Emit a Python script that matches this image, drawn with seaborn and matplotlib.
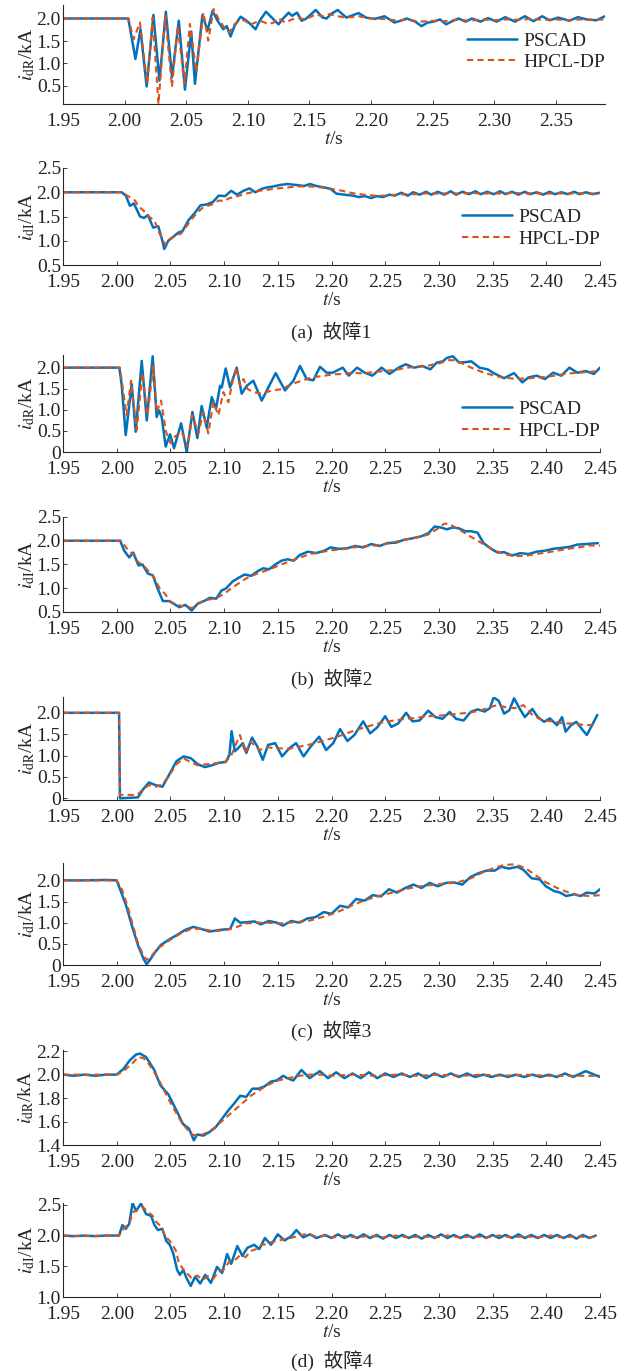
import numpy as np
import pandas as pd
import matplotlib
matplotlib.use("Agg")
import matplotlib.pyplot as plt
import seaborn as sns
from matplotlib.ticker import FuncFormatter, MultipleLocator, FormatStrFormatter

# ---- data: (t [s], current [kA]) ----
# fault 1, rectifier current
F1_R_PSCAD = [(1.95, 2.0), (2.003, 2.0), (2.0088, 1.10), (2.0129, 1.76), (2.0179, 0.49), (2.0234, 2.08),
              (2.0283, 0.62), (2.0335, 2.15), (2.0385, 0.70), (2.044, 1.95), (2.049, 0.42), (2.0541, 1.71),
              (2.0571, 0.55), (2.0632, 2.08), (2.0673, 1.73), (2.0714, 2.17), (2.0755, 1.95), (2.0802, 1.76),
              (2.083, 1.83), (2.086, 1.60), (2.0893, 1.84), (2.0942, 2.04), (2.098, 1.97), (2.1016, 1.89),
              (2.1063, 1.76), (2.1099, 1.96), (2.1148, 2.15), (2.1195, 2.02), (2.125, 1.87), (2.128, 1.98),
              (2.1332, 2.13), (2.136, 2.06), (2.140, 2.13), (2.1437, 1.95), (2.147, 1.99), (2.150, 2.06),
              (2.1552, 2.19), (2.1607, 2.02), (2.164, 2.0), (2.1676, 2.10), (2.173, 2.19), (2.18, 2.02),
              (2.19, 2.12), (2.196, 2.02), (2.203, 1.99), (2.211, 2.05), (2.219, 1.91), (2.224, 1.95),
              (2.229, 2.0), (2.236, 1.93), (2.241, 1.83), (2.246, 1.91), (2.251, 1.93), (2.256, 1.98),
              (2.261, 1.87), (2.266, 1.94), (2.271, 2.0), (2.277, 1.93), (2.282, 2.0), (2.289, 1.93),
              (2.295, 2.01), (2.302, 1.93), (2.309, 2.03), (2.317, 1.93), (2.325, 2.05), (2.332, 1.94),
              (2.339, 2.05), (2.345, 1.96), (2.352, 2.02), (2.361, 1.95), (2.368, 2.03), (2.375, 1.98),
              (2.383, 1.96), (2.390, 2.05)]
F1_R_HPCL = [(1.95, 2.0), (2.003, 2.0), (2.0074, 1.54), (2.0124, 1.91), (2.0184, 0.55), (2.0228, 2.02),
             (2.0275, 0.10), (2.033, 2.06), (2.0385, 0.48), (2.0431, 1.84), (2.0486, 0.55), (2.053, 1.88),
             (2.0582, 0.81), (2.064, 2.13), (2.0679, 1.51), (2.0723, 2.21), (2.077, 1.95), (2.081, 1.80),
             (2.085, 1.69), (2.089, 1.87), (2.094, 1.97), (2.098, 1.95), (2.1016, 1.86), (2.106, 1.91),
             (2.111, 1.94), (2.1168, 1.875), (2.121, 1.91), (2.125, 2.0), (2.1305, 1.91), (2.136, 1.98),
             (2.141, 2.01), (2.147, 1.98), (2.155, 2.09), (2.161, 2.05), (2.166, 2.10), (2.173, 2.05),
             (2.18, 2.02), (2.19, 2.05), (2.20, 2.0), (2.21, 1.99), (2.22, 1.96), (2.23, 1.97), (2.24, 1.93),
             (2.25, 1.95), (2.26, 1.94), (2.27, 1.97), (2.28, 1.95), (2.29, 1.98), (2.30, 1.96), (2.31, 1.98),
             (2.32, 1.97), (2.33, 1.99), (2.34, 1.97), (2.35, 1.98), (2.36, 1.96), (2.37, 1.98), (2.38, 1.97),
             (2.39, 1.98)]
# fault 1, inverter current
F1_I_PSCAD = [(1.95, 2.0), (2.0047, 2.0), (2.0085, 1.93), (2.0123, 1.72), (2.016, 1.77), (2.0217, 1.50),
              (2.0255, 1.47), (2.029, 1.53), (2.034, 1.27), (2.0387, 1.30), (2.0425, 1.0), (2.0443, 0.83),
              (2.048, 1.0), (2.052, 1.07), (2.0575, 1.17), (2.0613, 1.20), (2.067, 1.43), (2.0726, 1.57),
              (2.078, 1.73), (2.084, 1.75), (2.0896, 1.80), (2.095, 1.93), (2.101, 1.92), (2.1066, 2.03),
              (2.112, 1.95), (2.118, 2.03), (2.1236, 2.08), (2.129, 2.0), (2.135, 2.07), (2.14, 2.10),
              (2.146, 2.12), (2.152, 2.15), (2.159, 2.17), (2.167, 2.15), (2.1745, 2.13), (2.18, 2.17),
              (2.1858, 2.13), (2.193, 2.10), (2.199, 2.07), (2.2047, 1.97), (2.212, 1.95), (2.22, 1.93),
              (2.2255, 1.90), (2.231, 1.92), (2.237, 1.88), (2.242, 1.92), (2.248, 1.90), (2.254, 1.95),
              (2.259, 1.93), (2.265, 1.99), (2.271, 1.93), (2.276, 2.0), (2.282, 1.95), (2.288, 2.01),
              (2.293, 1.95), (2.299, 2.01), (2.305, 1.95), (2.311, 2.02), (2.316, 1.95), (2.322, 2.01),
              (2.328, 1.96), (2.334, 2.02), (2.339, 1.96), (2.345, 2.01), (2.351, 1.96), (2.357, 2.02),
              (2.362, 1.96), (2.368, 2.01), (2.374, 1.95), (2.38, 2.01), (2.385, 1.96), (2.391, 2.0),
              (2.397, 1.95), (2.403, 2.01), (2.408, 1.96), (2.414, 2.0), (2.42, 1.96), (2.426, 2.01),
              (2.431, 1.96), (2.437, 2.0), (2.443, 1.96), (2.45, 1.99)]
F1_I_HPCL = [(1.95, 2.0), (2.005, 2.0), (2.012, 1.90), (2.017, 1.83), (2.02, 1.72), (2.025, 1.62),
             (2.03, 1.50), (2.035, 1.42), (2.04, 1.15), (2.045, 0.92), (2.05, 1.05), (2.055, 1.10),
             (2.06, 1.15), (2.065, 1.30), (2.07, 1.45), (2.075, 1.58), (2.08, 1.68), (2.085, 1.72),
             (2.09, 1.76), (2.095, 1.83), (2.10, 1.82), (2.105, 1.88), (2.11, 1.90), (2.12, 1.97),
             (2.13, 2.02), (2.14, 2.05), (2.15, 2.08), (2.16, 2.10), (2.17, 2.12), (2.18, 2.12), (2.19, 2.10),
             (2.20, 2.07), (2.21, 2.03), (2.22, 1.98), (2.23, 1.95), (2.24, 1.93), (2.25, 1.93), (2.26, 1.95),
             (2.27, 1.96), (2.28, 1.96), (2.29, 1.98), (2.30, 1.97), (2.31, 1.98), (2.32, 1.97), (2.33, 1.99),
             (2.34, 1.97), (2.35, 1.98), (2.36, 1.97), (2.37, 1.99), (2.38, 1.97), (2.39, 1.98), (2.40, 1.97),
             (2.41, 1.98), (2.42, 1.97), (2.43, 1.98), (2.44, 1.97), (2.45, 1.98)]

# fault 2
F2_R_PSCAD = [(1.95, 2.0), (2.0025, 2.0), (2.0047, 1.57), (2.0084, 0.40), (2.014, 1.61), (2.0177, 0.48),
              (2.0233, 2.16), (2.028, 0.75), (2.0335, 2.27), (2.0372, 0.83), (2.0394, 0.99), (2.0419, 0.83),
              (2.0456, 0.13), (2.0497, 0.42), (2.0534, 0.09), (2.06, 0.68), (2.0652, 0.0), (2.0705, 0.95),
              (2.0751, 0.33), (2.0791, 1.09), (2.0838, 0.58), (2.0885, 1.30), (2.0925, 1.03), (2.0962, 1.57),
              (2.0978, 1.53), (2.1015, 1.98), (2.1055, 1.53), (2.1117, 2.0), (2.1164, 1.38), (2.121, 1.57),
              (2.1272, 1.69), (2.135, 1.22), (2.1412, 1.53), (2.148, 1.87), (2.1567, 1.46), (2.1645, 1.69),
              (2.1707, 2.04), (2.1769, 1.73), (2.183, 1.70), (2.1893, 2.02), (2.1955, 1.88), (2.201, 1.88),
              (2.2105, 2.0), (2.216, 1.81), (2.2238, 2.0), (2.231, 1.88), (2.238, 1.81), (2.2466, 2.0),
              (2.254, 1.85), (2.2625, 2.0), (2.269, 2.08), (2.277, 2.0), (2.2846, 2.04), (2.292, 1.96),
              (2.298, 2.12), (2.3036, 2.15), (2.3074, 2.23), (2.313, 2.27), (2.3188, 2.12), (2.3245, 2.13),
              (2.3302, 2.15), (2.3378, 2.0), (2.3454, 1.96), (2.351, 1.87), (2.3606, 1.75), (2.37, 1.87),
              (2.3777, 1.65), (2.3835, 1.77), (2.391, 1.81), (2.3987, 1.73), (2.4063, 1.88), (2.414, 1.81),
              (2.4215, 2.0), (2.429, 1.88), (2.4367, 1.92), (2.4443, 1.85), (2.45, 2.0)]
F2_R_HPCL = [(1.95, 2.0), (2.003, 2.0), (2.0062, 1.42), (2.0093, 0.87), (2.0133, 1.69), (2.0186, 0.52),
             (2.0239, 1.87), (2.0286, 0.87), (2.0341, 2.04), (2.0372, 0.95), (2.0413, 1.22), (2.0459, 0.48),
             (2.0503, 0.21), (2.0543, 0.37), (2.0605, 0.48), (2.0661, 0.13), (2.0705, 0.87), (2.076, 0.44),
             (2.0807, 0.95), (2.0853, 0.44), (2.09, 1.18), (2.0947, 0.87), (2.0993, 1.42), (2.104, 1.18),
             (2.1077, 1.65), (2.1117, 2.0), (2.1148, 1.57), (2.118, 1.73), (2.122, 1.49), (2.1272, 1.42),
             (2.135, 1.38), (2.1443, 1.46), (2.1536, 1.49), (2.163, 1.61), (2.1722, 1.69), (2.1816, 1.77),
             (2.191, 1.80), (2.2017, 1.84), (2.21, 1.85), (2.22, 1.88), (2.23, 1.86), (2.24, 1.90),
             (2.25, 1.92), (2.26, 1.95), (2.27, 2.0), (2.28, 2.02), (2.29, 2.05), (2.30, 2.10), (2.31, 2.18),
             (2.315, 2.17), (2.32, 2.12), (2.33, 2.0), (2.34, 1.90), (2.35, 1.82), (2.36, 1.76), (2.37, 1.74),
             (2.38, 1.74), (2.39, 1.76), (2.40, 1.78), (2.41, 1.82), (2.42, 1.86), (2.43, 1.88), (2.44, 1.90),
             (2.45, 1.92)]
F2_I_PSCAD = [(1.95, 2.0), (2.0032, 2.0), (2.007, 1.79), (2.0116, 1.65), (2.0154, 1.75), (2.0203, 1.48),
              (2.024, 1.50), (2.029, 1.31), (2.0337, 1.27), (2.038, 1.0), (2.043, 0.73), (2.0489, 0.73),
              (2.0534, 0.67), (2.0583, 0.60), (2.064, 0.65), (2.0698, 0.53), (2.0755, 0.68), (2.0812, 0.73),
              (2.0869, 0.80), (2.0926, 0.78), (2.0975, 0.95), (2.102, 1.0), (2.1078, 1.14), (2.1135, 1.22),
              (2.1192, 1.29), (2.125, 1.26), (2.1306, 1.35), (2.1363, 1.42), (2.142, 1.40), (2.1477, 1.50),
              (2.1534, 1.58), (2.159, 1.61), (2.1648, 1.58), (2.1705, 1.70), (2.178, 1.77), (2.1857, 1.74),
              (2.1933, 1.79), (2.199, 1.86), (2.2066, 1.83), (2.2143, 1.84), (2.222, 1.89), (2.2295, 1.86),
              (2.237, 1.93), (2.2447, 1.89), (2.252, 1.95), (2.26, 1.96), (2.2675, 2.02), (2.275, 2.05),
              (2.283, 2.09), (2.2903, 2.16), (2.296, 2.30), (2.3017, 2.28), (2.3074, 2.24), (2.313, 2.28),
              (2.3188, 2.26), (2.3245, 2.20), (2.3302, 2.20), (2.336, 2.17), (2.3416, 1.95), (2.3492, 1.82),
              (2.355, 1.75), (2.3606, 1.76), (2.3682, 1.69), (2.3758, 1.74), (2.3835, 1.72), (2.391, 1.77),
              (2.3987, 1.79), (2.4063, 1.83), (2.414, 1.85), (2.4215, 1.87), (2.429, 1.92), (2.4367, 1.93),
              (2.448, 1.95)]
F2_I_HPCL = [(1.95, 2.0), (2.004, 2.0), (2.01, 1.82), (2.015, 1.72), (2.02, 1.55), (2.025, 1.48), (2.03, 1.35),
             (2.035, 1.22), (2.04, 1.0), (2.045, 0.88), (2.05, 0.72), (2.055, 0.66), (2.06, 0.63), (2.065, 0.62),
             (2.07, 0.58), (2.075, 0.66), (2.08, 0.72), (2.085, 0.76), (2.09, 0.78), (2.095, 0.82), (2.10, 0.88),
             (2.105, 0.97), (2.11, 1.05), (2.12, 1.20), (2.13, 1.30), (2.14, 1.38), (2.15, 1.47), (2.16, 1.56),
             (2.17, 1.64), (2.18, 1.72), (2.19, 1.76), (2.20, 1.80), (2.21, 1.82), (2.22, 1.86), (2.23, 1.88),
             (2.24, 1.90), (2.25, 1.93), (2.26, 1.98), (2.27, 2.03), (2.28, 2.07), (2.29, 2.13), (2.30, 2.27),
             (2.305, 2.36), (2.31, 2.35), (2.32, 2.22), (2.33, 2.08), (2.34, 1.95), (2.35, 1.82), (2.36, 1.72),
             (2.37, 1.68), (2.38, 1.68), (2.39, 1.72), (2.40, 1.75), (2.41, 1.79), (2.42, 1.83), (2.43, 1.86),
             (2.44, 1.90), (2.45, 1.90)]

# fault 3
F3_R_PSCAD = [(1.95, 2.0), (2.0022, 2.0), (2.003, 0.0), (2.0197, 0.02), (2.0246, 0.21), (2.03, 0.37),
              (2.036, 0.31), (2.0426, 0.27), (2.049, 0.56), (2.0557, 0.87), (2.0623, 0.98), (2.0689, 0.94),
              (2.0754, 0.80), (2.082, 0.73), (2.0885, 0.77), (2.095, 0.83), (2.1016, 0.85), (2.105, 1.02),
              (2.107, 1.57), (2.11, 1.10), (2.113, 1.17), (2.1174, 1.29), (2.1207, 1.06), (2.126, 1.42),
              (2.131, 1.21), (2.136, 0.90), (2.141, 1.25), (2.1475, 1.29), (2.154, 0.98), (2.1607, 1.17),
              (2.167, 1.29), (2.174, 0.98), (2.18, 1.19), (2.1885, 1.44), (2.195, 1.13), (2.2016, 1.29),
              (2.208, 1.62), (2.2148, 1.34), (2.2213, 1.48), (2.2295, 1.80), (2.236, 1.52), (2.2426, 1.66),
              (2.25, 1.92), (2.2557, 1.67), (2.262, 1.75), (2.2695, 2.0), (2.2754, 1.80), (2.282, 1.82),
              (2.29, 2.05), (2.2967, 1.90), (2.3033, 1.86), (2.31, 2.02), (2.316, 1.86), (2.323, 1.82),
              (2.3295, 2.02), (2.336, 2.08), (2.3426, 2.03), (2.3475, 2.11), (2.351, 2.36), (2.3557, 2.28),
              (2.3607, 1.98), (2.3656, 2.06), (2.37, 2.34), (2.3754, 2.09), (2.38, 1.90), (2.387, 2.09),
              (2.392, 1.90), (2.398, 1.79), (2.4033, 1.87), (2.41, 1.71), (2.4147, 1.90), (2.418, 1.56),
              (2.423, 1.71), (2.428, 1.79), (2.4328, 1.63), (2.4377, 1.48), (2.4426, 1.71), (2.4475, 1.95)]
F3_R_HPCL = [(1.95, 2.0), (2.0022, 2.0), (2.003, 0.08), (2.019, 0.08), (2.0246, 0.21), (2.03, 0.31),
             (2.0367, 0.27), (2.0426, 0.33), (2.049, 0.54), (2.0557, 0.80), (2.0623, 0.93), (2.0689, 0.85),
             (2.0754, 0.77), (2.085, 0.80), (2.095, 0.83), (2.1016, 0.86), (2.107, 1.02), (2.1115, 1.29),
             (2.1148, 1.48), (2.1197, 1.06), (2.1246, 1.33), (2.133, 1.13), (2.141, 1.19), (2.1508, 1.17),
             (2.1607, 1.16), (2.1705, 1.21), (2.18, 1.26), (2.19, 1.33), (2.20, 1.40), (2.21, 1.48),
             (2.2197, 1.57), (2.2295, 1.65), (2.2393, 1.72), (2.249, 1.79), (2.259, 1.82), (2.2689, 1.86),
             (2.2787, 1.88), (2.2885, 1.92), (2.2984, 1.93), (2.308, 1.95), (2.318, 1.98), (2.328, 2.0),
             (2.338, 2.05), (2.3475, 2.13), (2.354, 2.18), (2.3623, 2.13), (2.3705, 2.11), (2.3787, 2.18),
             (2.387, 1.95), (2.3967, 1.82), (2.4066, 1.80), (2.4164, 1.75), (2.426, 1.75), (2.436, 1.71),
             (2.4475, 1.72)]
F3_I_PSCAD = [(1.95, 2.0), (1.97, 2.0), (1.99, 2.01), (2.0, 2.0), (2.0031, 1.79), (2.0088, 1.40), (2.0145, 0.90),
              (2.0202, 0.44), (2.0251, 0.14), (2.0278, 0.02), (2.0304, 0.10), (2.0354, 0.29), (2.041, 0.47),
              (2.0486, 0.60), (2.0562, 0.71), (2.0638, 0.83), (2.0714, 0.90), (2.079, 0.85), (2.0866, 0.79),
              (2.096, 0.83), (2.1056, 0.85), (2.11, 1.10), (2.115, 1.0), (2.1207, 1.01), (2.1283, 1.03),
              (2.134, 0.96), (2.1416, 1.04), (2.149, 1.0), (2.1548, 0.93), (2.1624, 1.04), (2.17, 1.0),
              (2.1776, 1.10), (2.185, 1.13), (2.1928, 1.25), (2.2, 1.21), (2.208, 1.40), (2.2155, 1.36),
              (2.223, 1.56), (2.2307, 1.52), (2.2383, 1.65), (2.246, 1.62), (2.2535, 1.79), (2.261, 1.71),
              (2.2687, 1.82), (2.2763, 1.90), (2.2838, 1.82), (2.2914, 1.94), (2.299, 1.86), (2.3066, 1.94),
              (2.3142, 1.95), (2.3218, 1.90), (2.3294, 2.08), (2.337, 2.17), (2.3445, 2.23), (2.352, 2.23),
              (2.3578, 2.32), (2.3654, 2.28), (2.373, 2.32), (2.3787, 2.25), (2.3863, 2.05), (2.394, 2.02),
              (2.3996, 1.86), (2.407, 1.75), (2.413, 1.71), (2.4185, 1.63), (2.426, 1.67), (2.432, 1.63),
              (2.4375, 1.71), (2.445, 1.69), (2.45, 1.79)]
F3_I_HPCL = [(1.95, 2.0), (2.0, 2.0), (2.005, 1.78), (2.01, 1.40), (2.015, 0.95), (2.02, 0.50), (2.025, 0.22),
             (2.028, 0.12), (2.032, 0.20), (2.036, 0.32), (2.04, 0.42), (2.05, 0.60), (2.06, 0.75), (2.07, 0.86),
             (2.08, 0.85), (2.09, 0.80), (2.10, 0.82), (2.11, 0.88), (2.12, 0.98), (2.13, 1.0), (2.14, 1.0),
             (2.15, 0.98), (2.16, 1.0), (2.17, 1.02), (2.18, 1.05), (2.19, 1.12), (2.20, 1.20), (2.21, 1.30),
             (2.22, 1.42), (2.23, 1.52), (2.24, 1.60), (2.25, 1.67), (2.26, 1.73), (2.27, 1.80), (2.28, 1.85),
             (2.29, 1.88), (2.30, 1.91), (2.31, 1.94), (2.32, 1.97), (2.33, 2.05), (2.34, 2.18), (2.35, 2.28),
             (2.36, 2.36), (2.37, 2.38), (2.38, 2.30), (2.39, 2.12), (2.40, 1.95), (2.41, 1.82), (2.42, 1.72),
             (2.43, 1.65), (2.44, 1.63), (2.45, 1.65)]

# fault 4
F4_R_PSCAD = [(1.95, 2.0), (1.96, 1.99), (1.97, 2.0), (1.98, 1.99), (1.99, 2.0), (2.0, 2.0), (2.0064, 2.05),
              (2.012, 2.12), (2.0178, 2.17), (2.0216, 2.18), (2.0273, 2.15), (2.035, 2.04), (2.0406, 1.91),
              (2.0482, 1.83), (2.0559, 1.69), (2.0616, 1.58), (2.0673, 1.54), (2.0718, 1.44), (2.075, 1.49),
              (2.0806, 1.48), (2.0863, 1.51), (2.092, 1.55), (2.0978, 1.62), (2.1035, 1.69), (2.109, 1.75),
              (2.115, 1.82), (2.1206, 1.81), (2.1263, 1.88), (2.132, 1.88), (2.1377, 1.90), (2.1435, 1.94),
              (2.149, 1.95), (2.155, 1.99), (2.1587, 1.97), (2.1644, 1.95), (2.172, 2.04), (2.1796, 1.97),
              (2.1891, 2.03), (2.1968, 1.97), (2.2044, 2.02), (2.212, 1.97), (2.2196, 2.01), (2.2272, 1.97),
              (2.2348, 2.02), (2.2425, 1.97), (2.25, 2.01), (2.2577, 1.98), (2.2653, 2.01), (2.273, 1.98),
              (2.2806, 2.01), (2.2882, 1.97), (2.2958, 2.01), (2.3034, 1.98), (2.311, 2.01), (2.3186, 1.98),
              (2.3262, 2.01), (2.3338, 1.98), (2.3414, 2.0), (2.349, 1.98), (2.3566, 2.0), (2.3642, 1.98),
              (2.3718, 2.0), (2.3794, 1.98), (2.387, 2.0), (2.3946, 1.98), (2.4022, 2.0), (2.4098, 1.98),
              (2.4174, 2.01), (2.425, 1.98), (2.4367, 2.03), (2.45, 1.98)]
F4_R_HPCL = [(1.95, 2.0), (2.0, 2.0), (2.005, 2.02), (2.01, 2.06), (2.015, 2.10), (2.02, 2.15), (2.025, 2.14),
             (2.03, 2.09), (2.035, 2.02), (2.04, 1.94), (2.045, 1.85), (2.05, 1.76), (2.055, 1.68), (2.06, 1.60),
             (2.065, 1.54), (2.07, 1.49), (2.075, 1.48), (2.08, 1.49), (2.085, 1.51), (2.09, 1.54), (2.095, 1.58),
             (2.10, 1.62), (2.105, 1.66), (2.11, 1.70), (2.115, 1.74), (2.12, 1.78), (2.125, 1.82), (2.13, 1.85),
             (2.135, 1.88), (2.14, 1.91), (2.15, 1.95), (2.16, 1.97), (2.17, 1.99), (2.18, 2.0), (2.19, 2.0),
             (2.20, 1.99), (2.22, 2.0), (2.24, 1.99), (2.26, 2.0), (2.28, 1.99), (2.30, 2.0), (2.32, 1.99),
             (2.34, 2.0), (2.36, 1.99), (2.38, 2.0), (2.40, 1.99), (2.42, 1.99), (2.45, 1.99)]
F4_I_PSCAD = [(1.95, 2.0), (1.96, 1.99), (1.97, 2.0), (1.98, 1.99), (1.99, 2.0), (2.0022, 2.0), (2.0053, 2.17),
              (2.0085, 2.11), (2.0116, 2.19), (2.0148, 2.53), (2.018, 2.40), (2.0226, 2.52), (2.0274, 2.35),
              (2.032, 2.32), (2.0352, 2.17), (2.0384, 2.09), (2.0425, 2.11), (2.0462, 1.91), (2.0494, 1.85),
              (2.0525, 1.72), (2.0563, 1.44), (2.0588, 1.36), (2.062, 1.44), (2.065, 1.31), (2.0689, 1.18),
              (2.073, 1.33), (2.0777, 1.22), (2.0824, 1.36), (2.0877, 1.23), (2.0934, 1.49), (2.0981, 1.39),
              (2.1028, 1.70), (2.1066, 1.54), (2.1123, 1.83), (2.117, 1.67), (2.1217, 1.80), (2.128, 1.85),
              (2.1327, 1.78), (2.138, 1.96), (2.1437, 1.85), (2.15, 2.02), (2.1563, 1.92), (2.1626, 1.99),
              (2.1673, 2.09), (2.1736, 1.97), (2.18, 2.02), (2.186, 1.96), (2.194, 2.01), (2.200, 1.96),
              (2.206, 2.02), (2.212, 1.96), (2.218, 2.01), (2.224, 1.96), (2.230, 2.02), (2.236, 1.96),
              (2.242, 2.01), (2.248, 1.95), (2.254, 2.01), (2.260, 1.96), (2.266, 2.01), (2.272, 1.96),
              (2.278, 2.01), (2.284, 1.95), (2.290, 2.01), (2.296, 1.96), (2.302, 2.02), (2.308, 1.96),
              (2.314, 2.01), (2.320, 1.96), (2.326, 2.01), (2.332, 1.96), (2.338, 2.02), (2.344, 1.96),
              (2.350, 2.01), (2.356, 1.96), (2.362, 2.01), (2.368, 1.96), (2.374, 2.02), (2.380, 1.96),
              (2.386, 2.01), (2.392, 1.96), (2.398, 2.01), (2.404, 1.96), (2.410, 2.01), (2.416, 1.96),
              (2.422, 2.01), (2.428, 1.95), (2.434, 2.01), (2.440, 1.96), (2.446, 2.0)]
F4_I_HPCL = [(1.95, 2.0), (1.97, 1.99), (1.99, 2.0), (2.002, 2.0), (2.005, 2.08), (2.008, 2.14), (2.012, 2.20),
             (2.015, 2.38), (2.02, 2.42), (2.024, 2.47), (2.028, 2.40), (2.033, 2.33), (2.037, 2.22),
             (2.041, 2.15), (2.045, 2.0), (2.05, 1.90), (2.055, 1.76), (2.058, 1.55), (2.062, 1.45),
             (2.066, 1.38), (2.07, 1.30), (2.075, 1.35), (2.08, 1.28), (2.085, 1.34), (2.09, 1.30), (2.095, 1.42),
             (2.10, 1.45), (2.105, 1.58), (2.11, 1.60), (2.115, 1.68), (2.12, 1.65), (2.125, 1.75), (2.13, 1.78),
             (2.135, 1.85), (2.14, 1.86), (2.145, 1.90), (2.15, 1.91), (2.155, 1.94), (2.16, 1.95), (2.17, 2.0),
             (2.178, 2.03), (2.186, 1.98), (2.194, 2.0), (2.20, 1.97), (2.212, 1.99), (2.224, 1.97), (2.236, 2.0),
             (2.248, 1.97), (2.26, 2.0), (2.272, 1.97), (2.284, 1.99), (2.296, 1.97), (2.308, 2.0), (2.32, 1.97),
             (2.332, 1.99), (2.344, 1.97), (2.356, 2.0), (2.368, 1.97), (2.38, 1.99), (2.392, 1.97), (2.404, 2.0),
             (2.416, 1.97), (2.428, 1.99), (2.44, 1.97), (2.448, 1.99)]

SERIES = ["PSCAD", "HPCL-DP"]
CAPTIONS = ["(a)  故障1", "(b)  故障2", "(c)  故障3", "(d)  故障4"]
YLABEL_R = r"$i_{\mathrm{dR}}$/kA"
YLABEL_I = r"$i_{\mathrm{dI}}$/kA"

# ---- layout (pixel boxes: top, bottom) ----
W, H = 628, 1371
LEFT, RIGHT = 63, 600
FS = 14
BLUE = "#0072BD"
ORANGE = "#D95319"

panels = [
    # data pscad, data hpcl, ylabel, ylim, yticks, xmax, box, legend y
    (F1_R_PSCAD, F1_R_HPCL, YLABEL_R, (0.1, 2.3), [0.5, 1.0, 1.5, 2.0], 2.39, (5, 104), 0.53),
    (F1_I_PSCAD, F1_I_HPCL, YLABEL_I, (0.5, 2.5), [0.5, 1.0, 1.5, 2.0, 2.5], 2.45, (168, 265), 0.38),
    (F2_R_PSCAD, F2_R_HPCL, YLABEL_R, (0.0, 2.3), [0, 0.5, 1.0, 1.5, 2.0], 2.45, (355, 452), 0.33),
    (F2_I_PSCAD, F2_I_HPCL, YLABEL_I, (0.5, 2.5), [0.5, 1.0, 1.5, 2.0, 2.5], 2.45, (517, 612), None),
    (F3_R_PSCAD, F3_R_HPCL, YLABEL_R, (-0.04, 2.37), [0, 0.5, 1.0, 1.5, 2.0], 2.45, (697, 800), None),
    (F3_I_PSCAD, F3_I_HPCL, YLABEL_I, (0.0, 2.41), [0, 0.5, 1.0, 1.5, 2.0], 2.45, (863, 965), None),
    (F4_R_PSCAD, F4_R_HPCL, YLABEL_R, (1.4, 2.21), [1.4, 1.6, 1.8, 2.0, 2.2], 2.45, (1050, 1145), None),
    (F4_I_PSCAD, F4_I_HPCL, YLABEL_I, (1.0, 2.53), [1.0, 1.5, 2.0, 2.5], 2.45, (1203, 1297), None),
]
caption_y = [332, 679, 1031, 1361]


def to_frame(pairs):
    return pd.DataFrame(pairs, columns=["t", "i"])


def ytick_fmt(v, pos):
    if abs(v) < 1e-9:
        return "0"
    return f"{v:.1f}"


sns.set_theme(style="ticks")
plt.rcParams["font.family"] = ["Liberation Serif", "Noto Sans CJK SC"]
plt.rcParams["mathtext.fontset"] = "stix"
plt.rcParams["axes.linewidth"] = 0.8

fig = plt.figure(figsize=(W / 100, H / 100), dpi=100)

for pscad, hpcl, ylabel, ylim, yticks, xmax, box, leg_y in panels:
    top, bottom = box
    right = RIGHT + 5 if xmax < 2.4 else RIGHT
    ax = fig.add_axes([LEFT / W, 1 - bottom / H, (right - LEFT) / W, (bottom - top) / H])

    sns.lineplot(data=to_frame(pscad), x="t", y="i", color=BLUE, linewidth=1.8,
                 estimator=None, sort=False, label=SERIES[0], ax=ax)
    sns.lineplot(data=to_frame(hpcl), x="t", y="i", color=ORANGE, linewidth=1.5,
                 linestyle=(0, (3.0, 2.0)), estimator=None, sort=False, label=SERIES[1], ax=ax)

    ax.set_xlim(1.95, xmax)
    ax.set_ylim(*ylim)
    ax.xaxis.set_major_locator(MultipleLocator(0.05))
    ax.xaxis.set_major_formatter(FormatStrFormatter("%.2f"))
    ax.set_yticks(yticks)
    ax.yaxis.set_major_formatter(FuncFormatter(ytick_fmt))
    ax.tick_params(direction="in", length=3, width=0.6, labelsize=FS, colors="#222222")
    ax.tick_params(axis="x", pad=6.5)
    ax.tick_params(axis="y", pad=1.5)
    for lab in ax.get_yticklabels():
        lab.set_verticalalignment("center_baseline")
    sns.despine(ax=ax)

    ax.set_xlabel("$t$/s", fontsize=FS, labelpad=0.5)
    ax.set_ylabel(ylabel, fontsize=FS, labelpad=0)

    if leg_y is not None:
        ax.legend(loc="center right", bbox_to_anchor=(1.0, leg_y), frameon=False, fontsize=FS,
                  handlelength=2.6, handletextpad=0.3, labelspacing=0.2, borderpad=0, borderaxespad=0)
    else:
        ax.get_legend().remove()

for text, y in zip(CAPTIONS, caption_y):
    fig.text((LEFT + RIGHT) / 2 / W, 1 - y / H, text, ha="center", va="center", fontsize=FS)

fig.savefig("out.png", dpi=100)
